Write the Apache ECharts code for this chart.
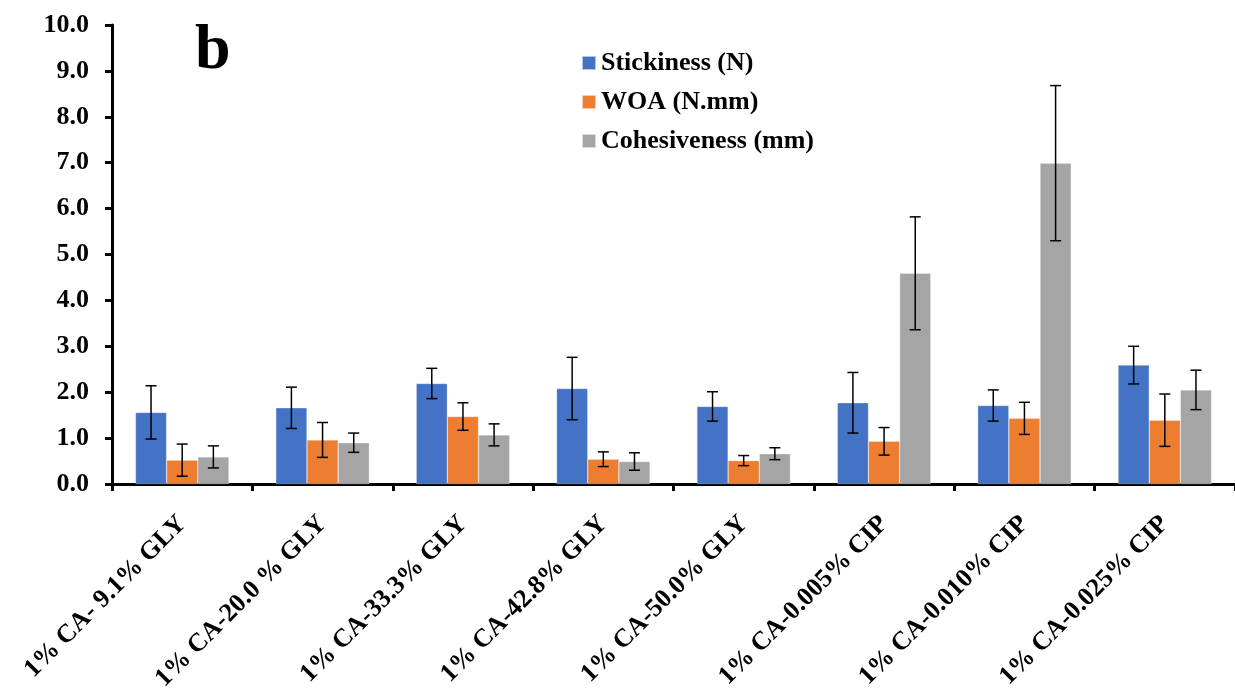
<!DOCTYPE html>
<html>
<head>
<meta charset="utf-8">
<script src="https://cdn.jsdelivr.net/npm/echarts@6/dist/echarts.min.js"></script>
<style>
  html, body { margin: 0; padding: 0; background: #fff; }
  #chart { width: 1235px; height: 689px; }
</style>
</head>
<body>
<div id="chart"></div>
<script>
var categories = [
  "1% CA- 9.1% GLY", "1% CA-20.0 % GLY", "1% CA-33.3% GLY", "1% CA-42.8% GLY",
  "1% CA-50.0% GLY", "1% CA-0.005% CIP", "1% CA-0.010% CIP", "1% CA-0.025% CIP"
];
var seriesNames = ["Stickiness (N)", "WOA (N.mm)", "Cohesiveness (mm)"];
var stickiness = [1.56, 1.66, 2.19, 2.08, 1.69, 1.77, 1.71, 2.59];
var stickinessErr = [0.58, 0.45, 0.33, 0.68, 0.32, 0.66, 0.34, 0.41];
var woa = [0.52, 0.96, 1.47, 0.54, 0.51, 0.93, 1.43, 1.39];
var woaErr = [0.35, 0.38, 0.30, 0.16, 0.11, 0.30, 0.35, 0.57];
var cohesiveness = [0.59, 0.90, 1.07, 0.49, 0.66, 4.59, 6.99, 2.05];
var cohesivenessErr = [0.24, 0.21, 0.24, 0.19, 0.13, 1.23, 1.69, 0.43];
var yTicks = [0, 1, 2, 3, 4, 5, 6, 7, 8, 9, 10];

var colors = ["#4472c4", "#ed7d31", "#a5a5a5"];
var values = [stickiness, woa, cohesiveness];
var errors = [stickinessErr, woaErr, cohesivenessErr];
var font = "Liberation Serif";
var barRatio = 0.222;

// error bars drawn next to each bar of the group
function errorSeries(idx) {
  var data = values[idx].map(function (v, i) {
    return [i, v - errors[idx][i], v + errors[idx][i]];
  });
  return {
    type: "custom",
    name: seriesNames[idx] + " err",
    z: 10,
    silent: true,
    data: data,
    renderItem: function (params, api) {
      var band = api.size([1, 0])[0];
      var off = (idx - 1) * band * barRatio;
      var lo = api.coord([api.value(0), api.value(1)]);
      var hi = api.coord([api.value(0), api.value(2)]);
      var x = lo[0] + off;
      var cap = 5.5;
      var st = { stroke: "#000", lineWidth: 1.5 };
      return {
        type: "group",
        children: [
          { type: "line", shape: { x1: x, y1: lo[1], x2: x, y2: hi[1] }, style: st },
          { type: "line", shape: { x1: x - cap, y1: lo[1], x2: x + cap, y2: lo[1] }, style: st },
          { type: "line", shape: { x1: x - cap, y1: hi[1], x2: x + cap, y2: hi[1] }, style: st }
        ]
      };
    }
  };
}

var chart = echarts.init(document.getElementById("chart"));
var barSeries = seriesNames.map(function (n, i) {
  return {
    type: "bar",
    name: n,
    data: values[i],
    barWidth: (barRatio * 100) + "%",
    barGap: "0%",
    itemStyle: { color: colors[i], borderColor: "rgba(255,255,255,0.6)", borderWidth: 0.5 }
  };
});

var option = {
  backgroundColor: "#fff",
  animation: false,
  color: colors,
  grid: { left: 112, right: 0, top: 25, bottom: 205, containLabel: false, outerBoundsMode: "none" },
  title: {
    text: "b",
    left: 190,
    top: 14,
    textStyle: { fontFamily: font, fontWeight: "bold", fontSize: 64, color: "#000" }
  },
  legend: {
    data: seriesNames,
    orient: "vertical",
    left: 576,
    top: 45,
    itemWidth: 14,
    itemHeight: 14,
    itemGap: 13,
    icon: "rect",
    textStyle: { fontFamily: font, fontWeight: "bold", fontSize: 26, color: "#000" }
  },
  xAxis: {
    type: "category",
    data: categories,
    axisLine: { lineStyle: { color: "#000", width: 3 } },
    axisTick: { show: true, length: 7, lineStyle: { color: "#000", width: 3 } },
    axisLabel: {
      rotate: 45,
      margin: 36,
      interval: 0,
      fontFamily: font,
      fontWeight: "bold",
      fontSize: 26,
      color: "#000"
    }
  },
  yAxis: {
    type: "value",
    min: yTicks[0],
    max: yTicks[yTicks.length - 1],
    interval: 1,
    splitLine: { show: false },
    axisLine: { show: true, lineStyle: { color: "#000", width: 3 } },
    axisTick: { show: true, length: 7, lineStyle: { color: "#000", width: 3 } },
    axisLabel: {
      margin: 23,
      fontFamily: font,
      fontWeight: "bold",
      fontSize: 26,
      color: "#000",
      formatter: function (v) { return v.toFixed(1); }
    }
  },
  series: barSeries.concat([errorSeries(0), errorSeries(1), errorSeries(2)])
};

option && chart.setOption(option);
window.addEventListener("resize", function () {
  chart.resize();
});
</script>
</body>
</html>
